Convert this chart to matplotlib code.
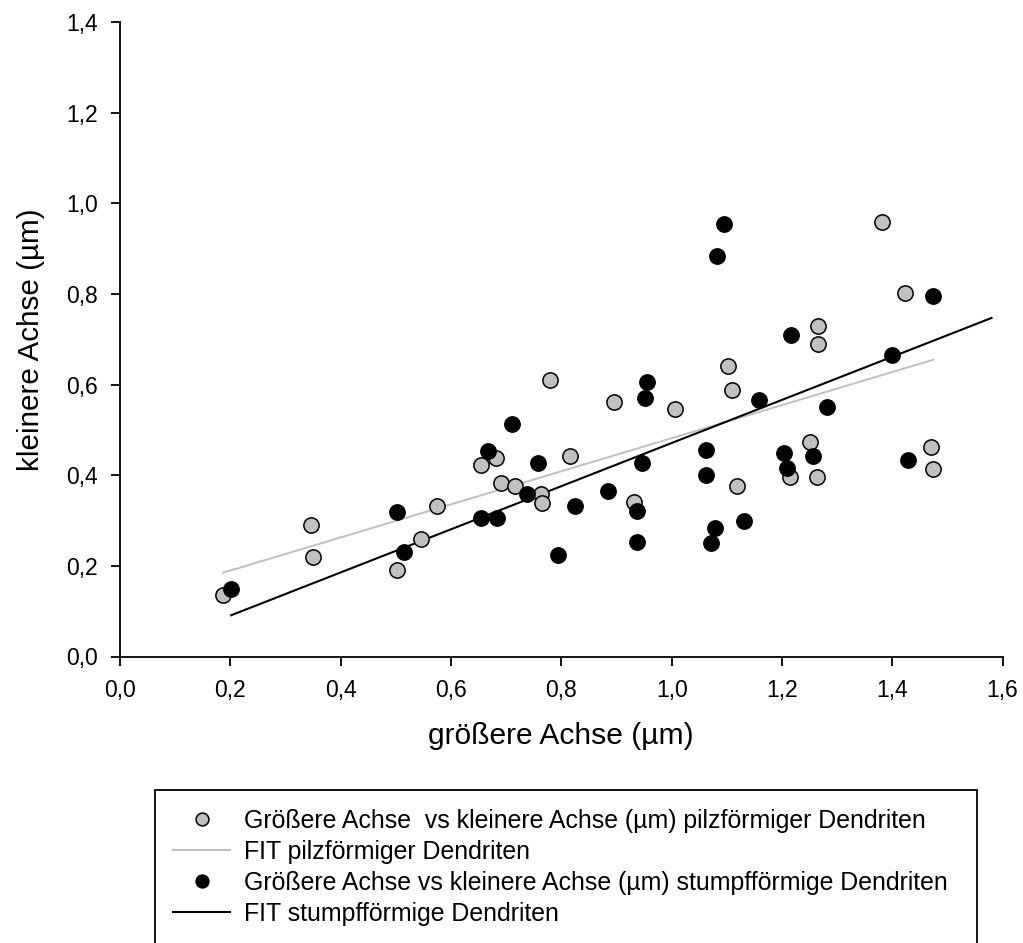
import matplotlib
matplotlib.use("Agg")
import matplotlib.pyplot as plt
from matplotlib.ticker import FuncFormatter
from matplotlib.lines import Line2D
from matplotlib.patches import Rectangle

plt.rcParams['font.family'] = ['Liberation Sans', 'DejaVu Sans']

# pilzförmige Dendriten (grau)
pilz_x = [0.186, 0.346, 0.349, 0.502, 0.545, 0.574, 0.655, 0.682, 0.690, 0.716,
          0.764, 0.765, 0.780, 0.815, 0.895, 0.932, 1.007, 1.103, 1.109, 1.118,
          1.215, 1.251, 1.263, 1.265, 1.266, 1.382, 1.423, 1.470, 1.474]
pilz_y = [0.136, 0.290, 0.219, 0.191, 0.259, 0.332, 0.422, 0.439, 0.382, 0.376,
          0.358, 0.338, 0.609, 0.443, 0.562, 0.341, 0.547, 0.641, 0.587, 0.377,
          0.397, 0.474, 0.397, 0.729, 0.689, 0.958, 0.802, 0.463, 0.413]

# stumpfförmige Dendriten (schwarz)
stumpf_x = [0.202, 0.502, 0.514, 0.655, 0.668, 0.684, 0.710, 0.738, 0.757, 0.794,
            0.824, 0.885, 0.937, 0.937, 0.947, 0.951, 0.955, 1.063, 1.063, 1.071,
            1.079, 1.083, 1.095, 1.131, 1.158, 1.204, 1.209, 1.217, 1.257, 1.282,
            1.400, 1.428, 1.474]
stumpf_y = [0.148, 0.319, 0.231, 0.305, 0.453, 0.306, 0.514, 0.358, 0.427, 0.224,
            0.332, 0.366, 0.321, 0.253, 0.426, 0.571, 0.605, 0.455, 0.400, 0.250,
            0.284, 0.884, 0.955, 0.298, 0.566, 0.449, 0.417, 0.710, 0.442, 0.551,
            0.666, 0.433, 0.796]

# Fit-Geraden (Endpunkte)
fit_pilz_x = [0.187, 1.475]
fit_pilz_y = [0.185, 0.655]
fit_stumpf_x = [0.2015, 1.580]
fit_stumpf_y = [0.091, 0.747]

x_ticks = [0.0, 0.2, 0.4, 0.6, 0.8, 1.0, 1.2, 1.4, 1.6]
y_ticks = [0.0, 0.2, 0.4, 0.6, 0.8, 1.0, 1.2, 1.4]

labels = ["Größere Achse  vs kleinere Achse (µm) pilzförmiger Dendriten",
          "FIT pilzförmiger Dendriten",
          "Größere Achse vs kleinere Achse (µm) stumpfförmige Dendriten",
          "FIT stumpfförmige Dendriten"]

W, H = 1023, 943
fig = plt.figure(figsize=(W / 100, H / 100), dpi=100)
ax = fig.add_axes([120 / W, 1 - 656.5 / H, (1002.6 - 120) / W, (656.5 - 22) / H])

gray = '#c0c0c0'
ax.plot(fit_pilz_x, fit_pilz_y, color=gray, lw=1.4, zorder=2)
ax.plot(fit_stumpf_x, fit_stumpf_y, color='black', lw=1.5, zorder=2)
ax.plot(pilz_x, pilz_y, ls='none', marker='o', ms=11, mfc=gray, mec='black', mew=1.1, zorder=3)
ax.plot(stumpf_x, stumpf_y, ls='none', marker='o', ms=11, mfc='black', mec='black', mew=1.1, zorder=3)

ax.set_xlim(0, 1.6)
ax.set_ylim(0, 1.4)
ax.set_xticks(x_ticks)
ax.set_yticks(y_ticks)
fmt = FuncFormatter(lambda v, p: f"{v:.1f}".replace('.', ','))
ax.xaxis.set_major_formatter(fmt)
ax.yaxis.set_major_formatter(fmt)
for s in ['top', 'right']:
    ax.spines[s].set_visible(False)
for s in ['left', 'bottom']:
    ax.spines[s].set_linewidth(1.3)
ax.tick_params(axis='both', direction='out', length=6.5, width=1.3, labelsize=16.5, colors='black')
ax.tick_params(axis='y', pad=9.5)
ax.tick_params(axis='x', pad=9.5)

ax.set_xlabel("größere Achse (µm)", fontsize=21.6)
ax.set_ylabel("kleinere Achse (µm)", fontsize=21.3)
ax.xaxis.set_label_coords(0.5, -0.103)
ax.yaxis.set_label_coords(-0.085, 0.5)

handles = [
    Line2D([], [], ls='none', marker='o', ms=9.2, mfc=gray, mec='black', mew=1.1),
    Line2D([], [], color=gray, lw=1.4),
    Line2D([], [], ls='none', marker='o', ms=9.2, mfc='black', mec='black', mew=1.1),
    Line2D([], [], color='black', lw=1.5),
]
leg = fig.legend(handles, labels, loc='upper left',
                 bbox_to_anchor=(173 / W, 1 - 809 / H), bbox_transform=fig.transFigure,
                 frameon=False, fontsize=17.9, borderpad=0, borderaxespad=0,
                 handlelength=2.3, handletextpad=0.56, labelspacing=0.28)

fig.patches.append(Rectangle((155 / W, -0.05), (977 - 155) / W, (1 - 790 / H) + 0.05,
                             transform=fig.transFigure, fill=False, ec='black', lw=1.3))

fig.savefig("out.png", dpi=100)
